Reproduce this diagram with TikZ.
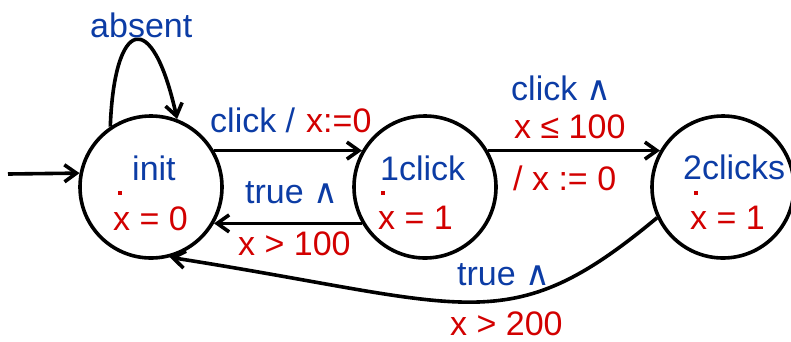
\documentclass[tikz,border=0pt]{standalone}
\usepackage{fontspec}
\setmainfont{Liberation Sans}
\newfontfamily\wedgefont{DejaVu Sans}
\usetikzlibrary{arrows.meta}
\definecolor{lblue}{RGB}{12,60,165}
\definecolor{lred}{RGB}{210,0,0}
\newcommand{\andsym}{{\wedgefont ∧}}
\tikzset{
  state/.style={draw, circle, line width=3.6pt, minimum size=142pt, inner sep=0pt},
  txt/.style={anchor=base west, inner sep=0pt, font=\fontsize{34}{40}\selectfont},
  blu/.style={txt, text=lblue},
  rd/.style={txt, text=lred},
  dotmark/.style={fill=lred, inner sep=0pt, minimum size=4.5pt},
  edge/.style={line width=3.6pt, -{Straight Barb[length=12pt, width=17pt, line width=3.6pt]}}
}
\begin{document}
\begin{tikzpicture}[x=1pt, y=-1pt]
\useasboundingbox (0,0) rectangle (791,341);
% states
\node[state] (init) at (151,187) {};
\node[state] (one) at (425,187) {};
\node[state] (two) at (723,187) {};
% state texts
\node[blu] (tinit) at (132,180) {init};
\node[rd] (ginit) at (113,230) {x = 0};
\node[dotmark] (dinit) at (120,193) {};
\node[blu] (tone) at (380,180) {1click};
\node[rd] (gone) at (378,229) {x = 1};
\node[dotmark] (done) at (383,193) {};
\node[blu] (ttwo) at (683,179) {2clicks};
\node[rd] (gtwo) at (690,229) {x = 1};
\node[dotmark] (dtwo) at (696,193) {};
% initial arrow
\coordinate (start) at (8,174);
\draw[edge] (start) -- (init.169.5);
% self loop
\draw[edge] (init.124) .. controls +(4,-108) and +(-25,-113) .. (init.69);
\node[blu] (labsent) at (90,37) {absent};
% init -> one
\draw[edge] (init.30) -- (one.150);
\node[blu] (l1) at (210,132) {click /};
\node[rd] (l1b) at (306,132) {x:=0};
% one -> init
\draw[edge] (one.210) -- (init.330);
\node[blu] (l2) at (245,203) {true \andsym};
\node[rd] (l2b) at (238,255) {x > 100};
% one -> two
\draw[edge] (one.30) -- (two.150);
\node[blu] (l3) at (511,100) {click \andsym};
\node[rd] (l3b) at (514,138) {x ≤ 100};
\node[rd] (l3c) at (513,190) {/ x := 0};
% two -> init
\draw[edge] (two.205) .. controls +(-150,125) and +(300,47) .. (init.285);
\node[blu] (l4) at (457,285) {true \andsym};
\node[rd] (l4b) at (450,335) {x > 200};
\end{tikzpicture}
\end{document}
